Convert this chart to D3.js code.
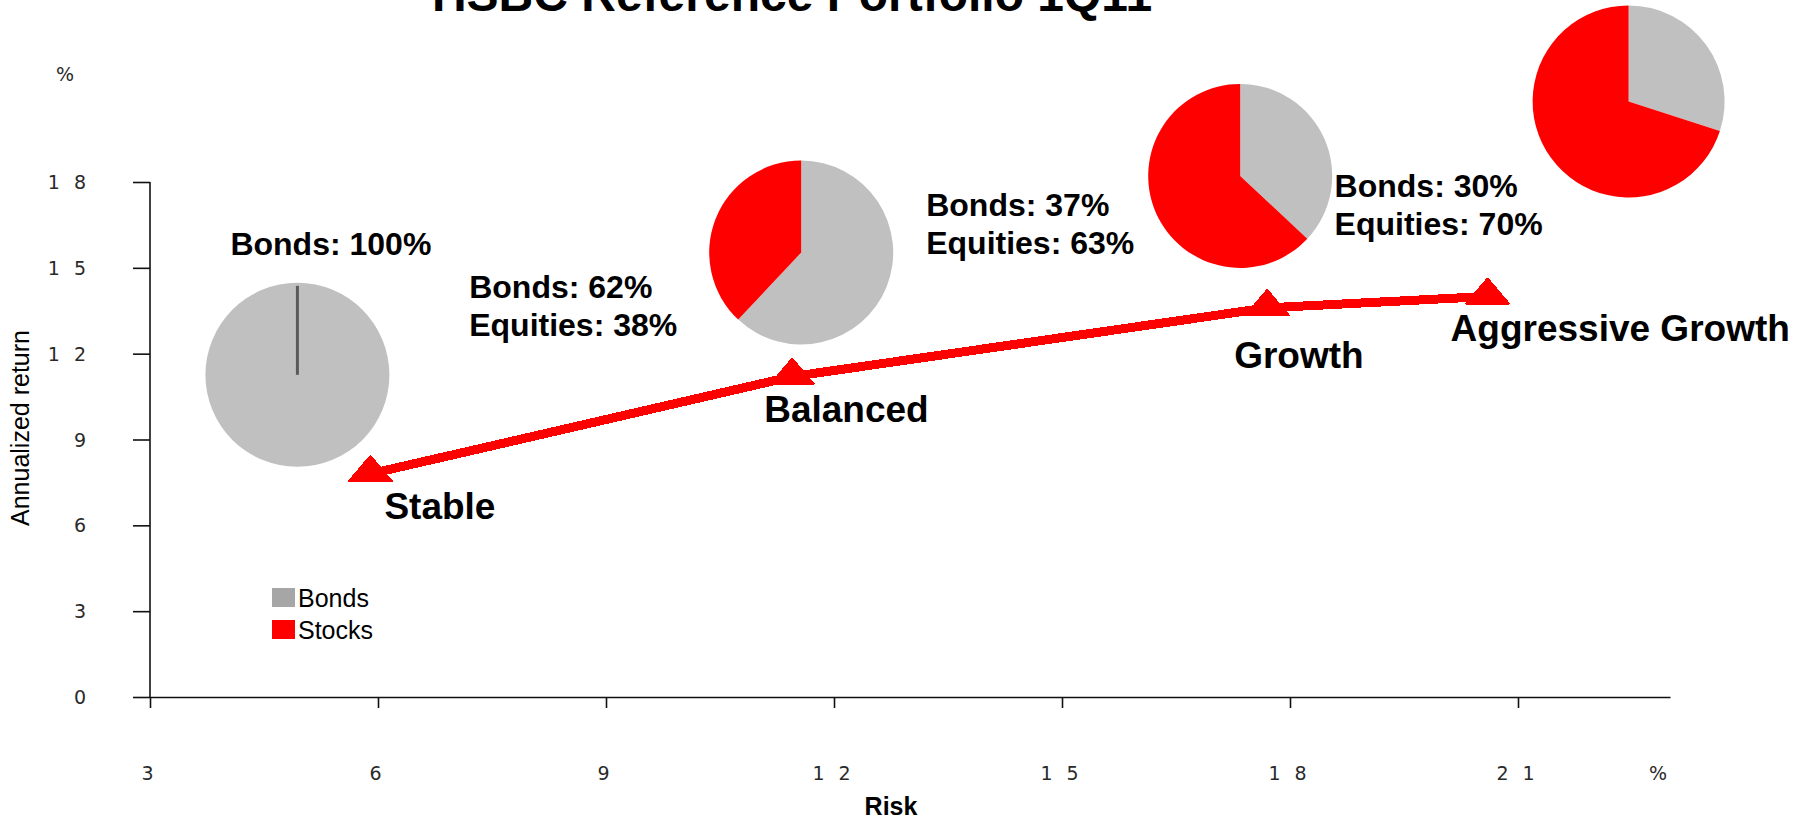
<!DOCTYPE html>
<html>
<head>
<meta charset="utf-8">
<script src="https://cdn.jsdelivr.net/npm/d3@7"></script>
<style>
  html, body { margin: 0; padding: 0; background: #fff; }
  svg { display: block; }
  .bold { font-family: "Liberation Sans", Arial, sans-serif; font-weight: bold; fill: #000; }
  .plain { font-family: "Liberation Sans", Arial, sans-serif; fill: #000; }
  .tick-label { font-family: "DejaVu Sans", sans-serif; font-size: 19px; fill: #2a2a2a; }
</style>
</head>
<body>
<svg id="chart" width="1814" height="822"></svg>
<script>
// ---- data ----
const titleText = "HSBC Reference Portfolio 1Q11";
const portfolios = ["Stable", "Balanced", "Growth", "Aggressive Growth"];
const riskPct = [5.9, 11.45, 17.7, 20.6];          // annualized volatility, %
const returnPct = [7.8, 11.2, 13.6, 14.0];         // annualized return, %
const bondsPct = [100, 62, 37, 30];
const equitiesPct = [0, 38, 63, 70];
const xTicks = [3, 6, 9, 12, 15, 18, 21];
const yTicks = [0, 3, 6, 9, 12, 15, 18];
const legendNames = ["Bonds", "Stocks"];
const xTitle = "Risk";
const yTitle = "Annualized return";
const unitLabel = "%";

// ---- layout (pixels) ----
const colors = { bonds: "#c0c0c0", bondsKey: "#a6a6a6", stocks: "#ff0000", axis: "#111" };
// pie centre offset from each portfolio point, and pie radius
const pieOffset = [[-73, -99], [9, -124], [-27, -132], [141, -195]];
const pieRadius = [92, 92, 92, 96];
// allocation text offset from each portfolio point
const allocOffset = [[-140, -219], [-323, -79], [-341, -92], [-153, -99]];
// portfolio name offset from each portfolio point
const nameOffset = [[14, 45], [-28, 45], [-33, 60], [-37, 45]];

const svg = d3.select("#chart");

const x = d3.scaleLinear().domain([3, 23]).range([150, 1670]);
const y = d3.scaleLinear().domain([0, 18]).range([697, 182]);

// ---- title ----
svg.append("text")
  .attr("class", "bold")
  .attr("x", 792).attr("y", 11)
  .attr("text-anchor", "middle")
  .style("font-size", "48px")
  .text(titleText);

// ---- axes ----
const ls = 14; // digit spacing of the tick labels
const xAxis = svg.append("g")
  .attr("transform", `translate(0,${y(0)})`)
  .call(d3.axisBottom(x).tickValues(xTicks).tickSize(11).tickSizeOuter(0).tickFormat(d3.format("d")));
const yAxis = svg.append("g")
  .attr("transform", `translate(${x(3)},0)`)
  .call(d3.axisLeft(y).tickValues(yTicks).tickSize(17).tickSizeOuter(0).tickFormat(d3.format("d")));
// y domain stops at the top tick
yAxis.select(".domain").attr("d", `M0,${y(0) + 0.5}V${y(18)}`);

[xAxis, yAxis].forEach(g => {
  g.select(".domain").attr("stroke", colors.axis).attr("stroke-width", 1.6);
  g.selectAll(".tick line").attr("stroke", colors.axis).attr("stroke-width", 1.6);
  g.selectAll(".tick text")
    .attr("class", "tick-label")
    .attr("fill", null)
    .style("letter-spacing", ls + "px")
    .attr("font-family", null).attr("font-size", null);
});
xAxis.selectAll(".tick text").attr("y", 76).attr("dy", "0.35em").attr("dx", ls / 2 - 3);
yAxis.selectAll(".tick text").attr("x", -64 + ls).attr("dy", "0.35em");

// unit marks
svg.append("text").attr("class", "tick-label")
  .attr("x", 65).attr("y", y(18) - 108).attr("dy", "0.35em")
  .attr("text-anchor", "middle").text(unitLabel);
svg.append("text").attr("class", "tick-label")
  .attr("x", 1658).attr("y", y(0) + 76).attr("dy", "0.35em")
  .attr("text-anchor", "middle").text(unitLabel);

// axis titles
svg.append("text").attr("class", "bold")
  .attr("x", 891).attr("y", 815)
  .attr("text-anchor", "middle")
  .style("font-size", "25px")
  .text(xTitle);
svg.append("text").attr("class", "plain")
  .attr("transform", "translate(29,428) rotate(-90)")
  .attr("text-anchor", "middle")
  .style("font-size", "25px")
  .text(yTitle);

// ---- portfolios ----
const pts = portfolios.map((name, i) => ({
  name, risk: riskPct[i], ret: returnPct[i], bonds: bondsPct[i], equities: equitiesPct[i], i
}));

// allocation pies
const pie = d3.pie().sort(null).value(d => d.v);
pts.forEach(p => {
  const cx = x(p.risk) + pieOffset[p.i][0];
  const cy = y(p.ret) + pieOffset[p.i][1];
  const r = pieRadius[p.i];
  const slices = pie([{ k: "bonds", v: p.bonds }, { k: "stocks", v: p.equities }]);
  const arc = d3.arc().innerRadius(0).outerRadius(r);
  const g = svg.append("g").attr("transform", `translate(${cx},${cy})`);
  g.selectAll("path").data(slices).join("path")
    .attr("d", arc)
    .attr("fill", d => d.data.k === "bonds" ? colors.bonds : colors.stocks);
  // an empty slice still shows as a seam line
  slices.filter(s => s.data.v === 0).forEach(s => {
    const a = s.startAngle;
    g.append("line")
      .attr("x1", 0).attr("y1", 0)
      .attr("x2", Math.sin(a) * (r - 3)).attr("y2", -Math.cos(a) * (r - 3))
      .attr("stroke", "#5a5a5a").attr("stroke-width", 3);
  });
});

// frontier line
svg.append("path")
  .datum(pts)
  .attr("d", d3.line().x(d => x(d.risk)).y(d => y(d.ret)))
  .attr("fill", "none")
  .attr("stroke", colors.stocks)
  .attr("stroke-width", 9)
  .attr("shape-rendering", "crispEdges");

// triangle markers
svg.selectAll(".marker").data(pts).join("path")
  .attr("class", "marker")
  .attr("d", d3.symbol(d3.symbolTriangle, 760))
  .attr("transform", d => `translate(${x(d.risk)},${y(d.ret) - 1}) scale(1,0.68)`)
  .attr("fill", colors.stocks)
  .attr("stroke", colors.stocks)
  .attr("stroke-width", 3)
  .attr("stroke-linejoin", "round")
  .attr("shape-rendering", "crispEdges");

// portfolio names
svg.selectAll(".name").data(pts).join("text")
  .attr("class", "bold name")
  .attr("x", d => x(d.risk) + nameOffset[d.i][0])
  .attr("y", d => y(d.ret) + nameOffset[d.i][1])
  .style("font-size", "37px")
  .text(d => d.name);

// allocation texts
pts.forEach(p => {
  const tx = x(p.risk) + allocOffset[p.i][0];
  const ty = y(p.ret) + allocOffset[p.i][1];
  const lines = p.equities > 0
    ? [`Bonds: ${p.bonds}%`, `Equities: ${p.equities}%`]
    : [`Bonds: ${p.bonds}%`];
  const t = svg.append("text").attr("class", "bold")
    .attr("x", tx).attr("y", ty).style("font-size", "32px");
  lines.forEach((l, k) => t.append("tspan").attr("x", tx).attr("dy", k === 0 ? 0 : 38).text(l));
});

// ---- legend ----
const legend = svg.append("g").attr("transform", "translate(272,588)");
legendNames.forEach((n, k) => {
  const row = legend.append("g").attr("transform", `translate(0,${k * 32})`);
  row.append("rect").attr("width", 23).attr("height", 19)
    .attr("fill", k === 0 ? colors.bondsKey : colors.stocks);
  row.append("text").attr("class", "plain")
    .attr("x", 26).attr("y", 19)
    .style("font-size", "25px")
    .text(n);
});
</script>
</body>
</html>
